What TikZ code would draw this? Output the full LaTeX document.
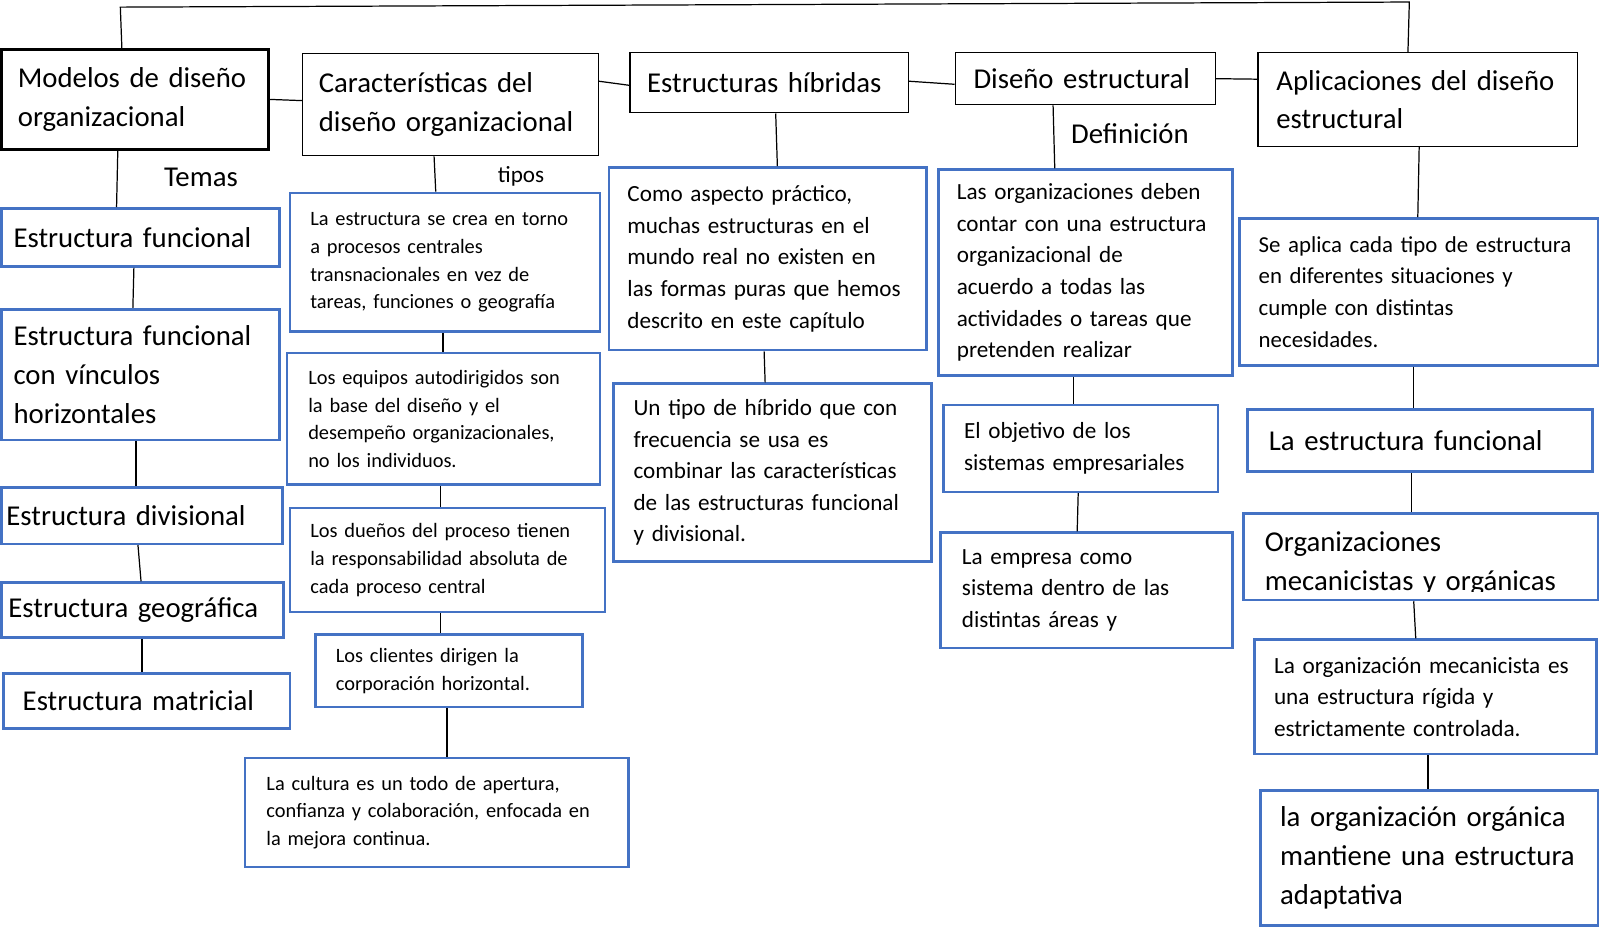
\documentclass[tikz,border=0pt]{standalone}
\usepackage{fontspec}
\setmainfont{Carlito}
\definecolor{azulof}{HTML}{4472C4}
\newcommand{\letragrande}{\fontsize{28.2}{38}\selectfont}
\newcommand{\letramedia}{\fontsize{22.7}{31}\selectfont}
\newcommand{\letrachica}{\fontsize{20}{27.3}\selectfont}

\begin{document}
\begin{tikzpicture}[x=1pt, y=-1pt,
	caja/.style={draw=black, line width=1.3pt, anchor=north west, align=left,
		inner ysep=0pt, inner xsep=17pt, font=\letragrande},
	cajaazul/.style={caja, draw=azulof, line width=2.6pt},
	linea/.style={line width=1.2pt}]
	\useasboundingbox (0,0) rectangle (1568,912);
	
	% Temas principales
	\node[caja, line width=3pt, inner xsep=16pt, text width=230pt, minimum height=98pt] (modelos) at (0,47) {Modelos de diseño\\organizacional};
	\node[caja, inner xsep=16pt, text width=258pt, minimum height=100pt] (caract) at (296,52) {Características del\\diseño organizacional};
	\node[caja, text width=239pt, minimum height=59pt] (hibridas) at (617,51) {Estructuras híbridas};
	\node[caja, inner xsep=18pt, text width=219pt, minimum height=51pt] (diseno) at (936,51) {Diseño estructural};
	\node[caja, inner xsep=18pt, text width=277pt, minimum height=92pt] (aplic) at (1233,51) {Aplicaciones del diseño\\estructural};
	
	% Etiquetas
	\node (temas) at (197,174) {\letragrande Temas};
	\node (tipos) at (511,173) {\letramedia tipos};
	\node (defin) at (1108,131) {\letragrande Definición};
	
	% Columna de estructuras
	\node[cajaazul, inner xsep=12pt, text width=249pt, minimum height=57pt] (efunc) at (0,203) {Estructura funcional};
	\node[cajaazul, inner xsep=12pt, text width=249pt, minimum height=128pt] (evinc) at (0,302) {Estructura funcional\\con vínculos\\horizontales};
	\node[cajaazul, inner xsep=5pt, text width=266pt, minimum height=55pt] (ediv) at (0,477) {Estructura divisional};
	\node[cajaazul, inner xsep=7pt, text width=263pt, minimum height=54pt] (egeo) at (0,570) {Estructura geográfica};
	\node[cajaazul, inner xsep=19pt, text width=243pt, minimum height=54pt] (emat) at (2,659) {Estructura matricial};
	
	% Columna de tipos
	\node[cajaazul, font=\letrachica, inner xsep=20pt, text width=264pt, minimum height=136pt] (tipoa) at (283,188) {La estructura se crea en torno\\a procesos centrales\\transnacionales en vez de\\tareas, funciones o geografía};
	\node[cajaazul, font=\letrachica, inner xsep=21pt, text width=265pt, minimum height=129pt] (tipob) at (280,345) {Los equipos autodirigidos son\\la base del diseño y el\\desempeño organizacionales,\\no los individuos.};
	\node[cajaazul, font=\letrachica, inner xsep=20pt, text width=269pt, minimum height=102pt] (tipoc) at (283,497) {Los dueños del proceso tienen\\la responsabilidad absoluta de\\cada proceso central};
	\node[cajaazul, font=\letrachica, inner xsep=20pt, text width=222pt, minimum height=71pt] (tipod) at (308,621) {Los clientes dirigen la\\corporación horizontal.};
	\node[cajaazul, font=\letrachica, inner xsep=21pt, text width=334pt, minimum height=107pt] (tipoe) at (239,742) {La cultura es un todo de apertura,\\confianza y colaboración, enfocada en\\la mejora continua.};
	
	% Columna de hibridas
	\node[cajaazul, font=\letramedia, inner xsep=18pt, text width=275pt, minimum height=179pt] (hiba) at (596,163) {Como aspecto práctico,\\muchas estructuras en el\\mundo real no existen en\\las formas puras que hemos\\descrito en este capítulo};
	\node[cajaazul, font=\letramedia, inner xsep=20pt, text width=272pt, minimum height=174pt] (hibb) at (600,375) {Un tipo de híbrido que con\\frecuencia se usa es\\combinar las características\\de las estructuras funcional\\y divisional.};
	
	% Columna de diseno
	\node[cajaazul, font=\letramedia, inner xsep=18pt, text width=252pt, minimum height=202pt] (disa) at (919,165) {Las organizaciones deben\\contar con una estructura\\organizacional de\\acuerdo a todas las\\actividades o tareas que\\pretenden realizar};
	\node[cajaazul, font=\letramedia, inner xsep=20pt, text width=229pt, minimum height=85pt] (disb) at (924,396) {El objetivo de los\\sistemas empresariales};
	\node[cajaazul, font=\letramedia, inner xsep=21pt, text width=244pt, minimum height=113pt] (disc) at (921,521) {La empresa como\\sistema dentro de las\\distintas áreas y};
	
	% Columna de aplicaciones
	\node[cajaazul, font={\fontsize{22.4}{31}\selectfont}, inner xsep=19pt, text width=314pt, minimum height=144pt] (apa) at (1214,213) {Se aplica cada tipo de estructura\\en diferentes situaciones y\\cumple con distintas\\necesidades.};
	\node[cajaazul, inner xsep=21pt, text width=296pt, minimum height=61pt] (apb) at (1222,400) {La estructura funcional};
	\node[cajaazul, inner xsep=21pt, text width=306pt, minimum height=85pt] (apc) at (1218,502) {\rule{0pt}{33pt}Organizaciones\\mecanicistas y orgánicas};
	\fill[white] ([xshift=3pt,yshift=2.5pt]apc.south west) rectangle ([xshift=-3pt,yshift=9pt]apc.south east);
	\node[cajaazul, font={\fontsize{22.8}{31}\selectfont}, inner xsep=19pt, text width=297pt, minimum height=112pt] (apd) at (1229,626) {La organización mecanicista es\\una estructura rígida y\\estrictamente controlada.};
	\node[cajaazul, inner xsep=19pt, text width=293pt, minimum height=132pt] (ape) at (1235,774) {la organización orgánica\\mantiene una estructura\\adaptativa};
	
	% Lineas superiores
	\coordinate (arribai) at (118,7);
	\coordinate (arribad) at (1382,2);
	\draw[linea] ([xshift=-13pt]modelos.north) -- (arribai) -- (arribad) -- ([xshift=-9.5pt]aplic.north);
	\draw[linea] (modelos.east) -- ([yshift=4pt]caract.west);
	\draw[linea] ([yshift=23pt]caract.east) -- ([yshift=-2.5pt]hibridas.west);
	\draw[linea] ([yshift=1.5pt]hibridas.east) -- ([yshift=-5.5pt]diseno.west);
	\draw[linea] (diseno.east) -- ([yshift=20pt]aplic.west);
	
	% Lineas verticales
	\draw[linea] ([xshift=-17pt]modelos.south) -- ([xshift=-23.5pt]efunc.north);
	\draw[linea] ([xshift=-6.5pt]efunc.south) -- ([xshift=-7.5pt]evinc.north);
	\draw[linea] ([xshift=-4.5pt]evinc.south) -- ([xshift=-6pt]ediv.north);
	\draw[linea] ([xshift=-4pt]ediv.south) -- ([xshift=-1.5pt]egeo.north);
	\draw[linea] ([xshift=-0.5pt]egeo.south) -- ([xshift=-4.5pt]emat.north);
	
	\draw[linea] ([xshift=-16pt]caract.south) -- ([xshift=-9pt]tipoa.north);
	\draw[linea] ([xshift=-2pt]tipoa.south) -- ([xshift=-0.5pt]tipob.north);
	\draw[linea] ([xshift=-2.5pt]tipob.south) -- ([xshift=-6.5pt]tipoc.north);
	\draw[linea] ([xshift=-6.5pt]tipoc.south) -- ([xshift=-8pt]tipod.north);
	\draw[linea] ([xshift=-2pt]tipod.south) -- ([xshift=10pt]tipoe.north);
	
	\draw[linea] ([xshift=6.5pt]hibridas.south) -- ([xshift=9.5pt]hiba.north);
	\draw[linea] ([xshift=-3.5pt]hiba.south) -- ([xshift=-7pt]hibb.north);
	
	\draw[linea] ([xshift=-31.5pt]diseno.south) -- ([xshift=-30pt]disa.north);
	\draw[linea] ([xshift=-12pt]disa.south) -- ([xshift=-7.5pt]disb.north);
	\draw[linea] ([xshift=-2.5pt]disb.south) -- ([xshift=-9pt]disc.north);
	
	\draw[linea] ([xshift=1.5pt]aplic.south) -- ([xshift=-1pt]apa.north);
	\draw[linea] ([xshift=-5pt]apa.south) -- ([xshift=-6pt]apb.north);
	\draw[linea] ([xshift=-8pt]apb.south) -- ([xshift=-9pt]apc.north);
	\draw[linea] ([xshift=-7pt]apc.south) -- ([xshift=-9.5pt]apd.north);
	\draw[linea] ([xshift=2.5pt]apd.south) -- ([xshift=-1.5pt]ape.north);
\end{tikzpicture}
\end{document}
